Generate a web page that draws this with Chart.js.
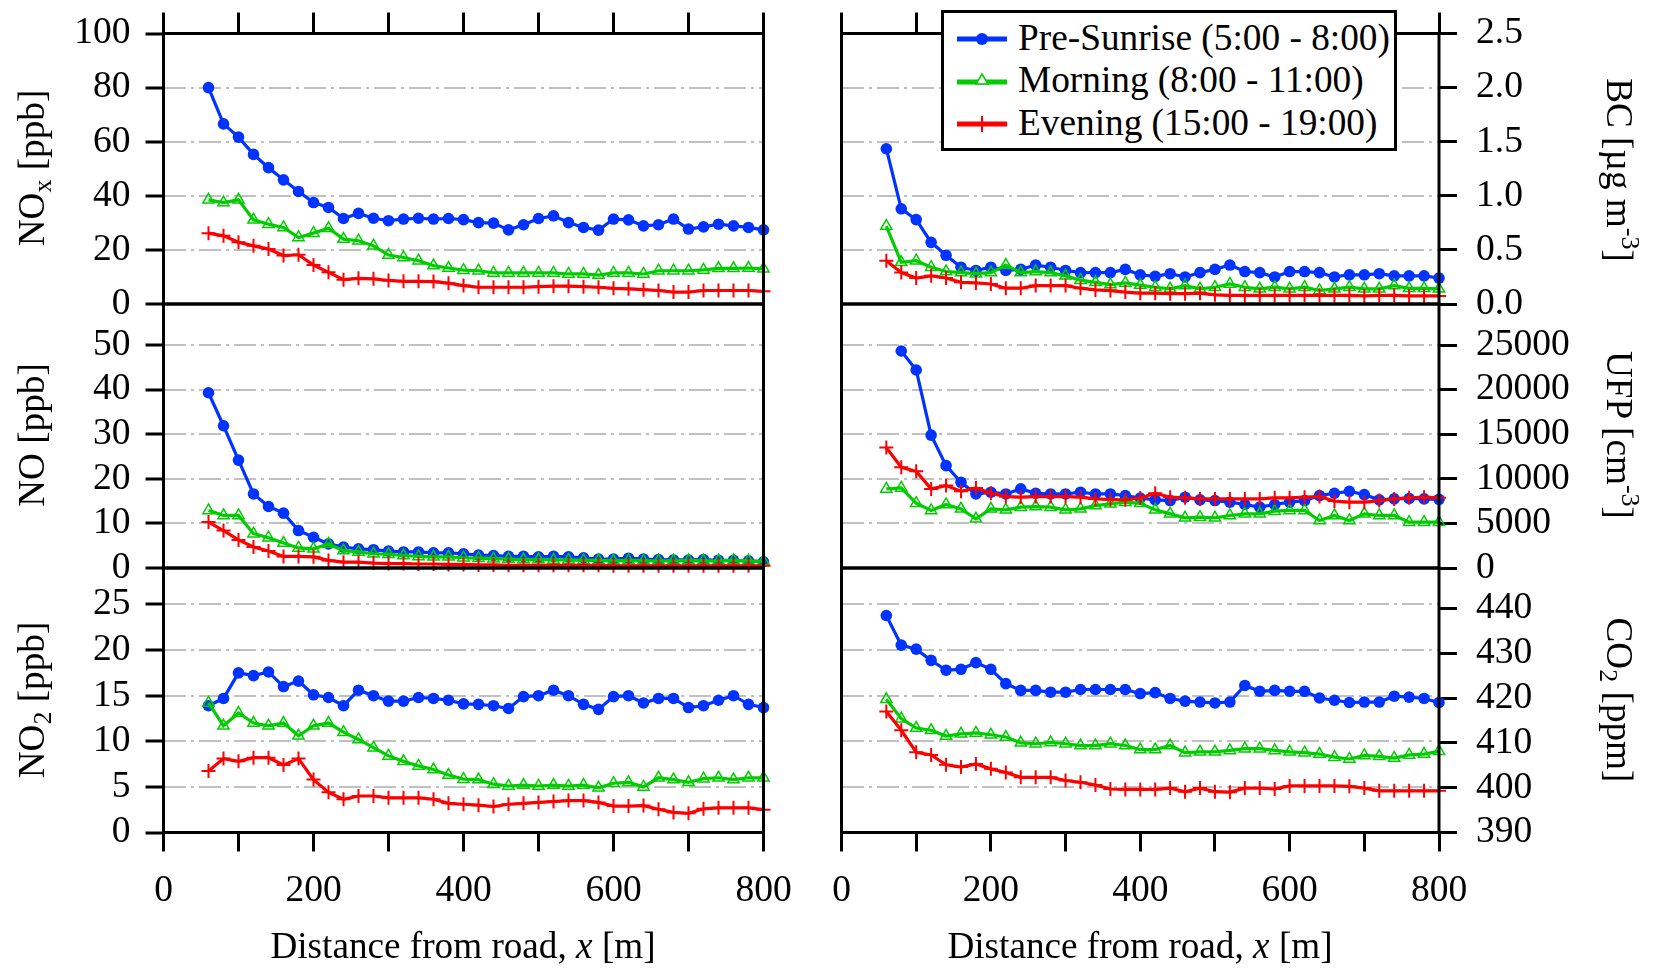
<!DOCTYPE html>
<html><head><meta charset="utf-8">
<script src="https://cdn.jsdelivr.net/npm/chart.js@4.4.0/dist/chart.umd.min.js"></script>
<style>
html,body{margin:0;padding:0;background:#fff;}
body{width:1662px;height:969px;position:relative;overflow:hidden;font-family:'Liberation Serif','Times New Roman',serif;color:#000;}
canvas{position:absolute;left:0;top:0;}
.t{position:absolute;font-size:37.2px;white-space:nowrap;text-align:center;line-height:44px;height:44px;width:320px;}
.t sub{font-size:26px;vertical-align:-7px;line-height:0;}
.t sup{font-size:26px;vertical-align:15px;line-height:0;}
.lt{position:absolute;font-size:37.3px;white-space:nowrap;line-height:44px;height:44px;}
</style></head><body>
<canvas id="c0" width="1662" height="969"></canvas>
<canvas id="c1" width="1662" height="969"></canvas>
<canvas id="c2" width="1662" height="969"></canvas>
<canvas id="c3" width="1662" height="969"></canvas>
<canvas id="c4" width="1662" height="969"></canvas>
<canvas id="c5" width="1662" height="969"></canvas>

<div class="t" style="left:-128px;top:146px;transform:rotate(-90deg)">NO<sub>x</sub> [ppb]</div>
<div class="t" style="left:-128px;top:413px;transform:rotate(-90deg)">NO [ppb]</div>
<div class="t" style="left:-128px;top:678px;transform:rotate(-90deg)">NO<sub>2</sub> [ppb]</div>
<div class="t" style="left:1459px;top:148px;transform:rotate(90deg)">BC [µg m<sup>-3</sup>]</div>
<div class="t" style="left:1459px;top:413px;transform:rotate(90deg)">UFP [cm<sup>-3</sup>]</div>
<div class="t" style="left:1459px;top:678px;transform:rotate(90deg)">CO<sub>2</sub> [ppm]</div>
<div class="t" style="left:213px;top:924px;width:500px">Distance from road, <i>x</i> [m]</div>
<div class="t" style="left:890px;top:924px;width:500px">Distance from road, <i>x</i> [m]</div>

<div style="position:absolute;left:941px;top:10px;width:456px;height:141px;border:3px solid #000;box-sizing:border-box;background:#fff;"></div>
<svg style="position:absolute;left:955px;top:27px" width="54" height="24"><line x1="2" y1="12" x2="52" y2="12" stroke="#0033ff" stroke-width="5"/><circle cx="27" cy="12" r="6" fill="#0033ff"/></svg>
<svg style="position:absolute;left:955px;top:70px" width="54" height="24"><line x1="2" y1="12" x2="52" y2="12" stroke="#00cc00" stroke-width="5"/><polygon points="27,4 33,14 21,14" fill="#fff" stroke="#00cc00" stroke-width="1.5"/></svg>
<svg style="position:absolute;left:955px;top:112px" width="54" height="24"><line x1="2" y1="12" x2="52" y2="12" stroke="#ff0000" stroke-width="5"/><path d="M27 4 V20 M20 12 H34" stroke="#ff0000" stroke-width="2"/></svg>
<div class="lt" style="left:1018px;top:16px">Pre-Sunrise (5:00 - 8:00)</div>
<div class="lt" style="left:1018px;top:58px">Morning (8:00 - 11:00)</div>
<div class="lt" style="left:1018px;top:101px">Evening (15:00 - 19:00)</div>

<script>
// ---------- data ----------
const distance = [60,80,100,120,140,160,180,200,220,240,260,280,300,320,340,360,380,400,420,440,460,480,500,520,540,560,580,600,620,640,660,680,700,720,740,760,780,800];

const noxPre  = [80,66.6,61.7,55.3,50.4,45.9,41.6,37.5,35.7,31.6,33.5,31.7,30.8,31.4,31.7,31.4,31.6,31.2,30.1,29.9,27.4,29.3,31.6,32.6,30.1,28.3,27.3,31.4,31.1,28.9,29.3,31.4,27.7,28.5,29.5,28.9,28.3,27.4];
const noxMorn = [38.5,37.5,38.5,31.1,29.5,28.3,24.6,26.2,28.0,24.0,23.4,21.5,18.1,17.2,16.0,14.2,13.3,12.5,12.3,11.5,11.5,11.5,11.5,11.5,11.1,11.1,10.7,11.5,11.5,11.1,12.3,12.3,12.3,12.6,13.2,13.2,13.3,13.0];
const noxEve  = [26.2,25.2,22.8,21.5,20.3,17.9,18.2,14.4,11.7,9.0,9.5,9.3,8.7,8.4,8.4,8.3,7.7,6.8,6.2,6.2,6.2,6.2,6.4,6.6,6.6,6.4,6.2,5.8,5.6,5.3,5.0,4.4,4.4,5.0,5.0,5.0,5.0,4.7];

const bcPre  = [1.435,0.88,0.78,0.57,0.45,0.34,0.31,0.34,0.31,0.32,0.36,0.34,0.31,0.29,0.29,0.29,0.32,0.27,0.256,0.28,0.25,0.29,0.32,0.36,0.30,0.29,0.25,0.30,0.30,0.29,0.25,0.27,0.27,0.28,0.26,0.26,0.26,0.24];
const bcMorn = [0.72,0.385,0.40,0.34,0.30,0.29,0.28,0.29,0.36,0.29,0.30,0.29,0.26,0.22,0.20,0.18,0.195,0.175,0.155,0.14,0.17,0.14,0.155,0.185,0.155,0.14,0.155,0.14,0.155,0.125,0.14,0.155,0.14,0.14,0.17,0.145,0.145,0.14];
const bcEve  = [0.40,0.29,0.24,0.26,0.24,0.20,0.195,0.185,0.146,0.146,0.17,0.17,0.17,0.146,0.13,0.124,0.11,0.10,0.10,0.095,0.095,0.10,0.085,0.08,0.08,0.08,0.08,0.08,0.08,0.08,0.08,0.08,0.075,0.08,0.08,0.075,0.075,0.075];

const noPre  = [39.3,31.9,24.2,16.6,13.8,12.3,8.4,6.9,5.4,4.7,4.3,4.1,3.8,3.6,3.6,3.4,3.4,3.2,2.9,2.8,2.6,2.6,2.5,2.6,2.5,2.3,2.0,2.0,2.2,2.0,1.9,1.8,1.8,1.9,1.7,1.7,1.6,1.4];
const noMorn = [12.9,11.8,11.8,7.7,6.8,5.6,4.5,4.3,5.4,3.9,3.6,3.2,3.1,2.8,2.6,2.5,2.5,2.3,2.2,2.1,2.0,1.9,1.9,1.8,1.8,1.7,1.7,1.6,1.7,1.6,1.6,1.6,1.7,1.6,1.6,1.7,1.6,1.5];
const noEve  = [10.3,8.4,6.3,4.7,3.8,2.6,2.6,2.5,1.7,1.3,1.3,1.1,1.0,1.0,0.9,0.9,0.8,0.8,0.7,0.7,0.6,0.6,0.6,0.6,0.6,0.6,0.6,0.5,0.5,0.5,0.5,0.5,0.5,0.5,0.5,0.5,0.5,0.5];

const ufpPre  = [null,24330,22200,14900,11480,9610,8300,8500,8300,8870,8380,8300,8300,8500,8300,8300,8120,7850,7640,7560,7940,7640,7560,7380,7120,6820,7120,7380,7560,8120,8380,8600,8230,7640,7750,7800,7750,7700];
const ufpMorn = [8870,8980,7260,6450,7120,6630,5510,6630,6520,6820,6890,6820,6520,6630,7000,7190,7380,7250,6520,6070,5630,5700,5630,5890,6070,6070,6370,6450,6450,5330,5890,5330,6070,5890,5890,5140,5140,5140];
const ufpEve  = [13500,11290,10840,8870,9240,8610,8980,8380,8010,7940,8010,8010,8010,7940,7750,7680,7640,7850,8380,7940,7870,7750,7750,7750,7750,7750,7870,7870,7940,8010,7500,7380,7380,7560,7750,7870,7940,7870];

const no2Pre  = [13.9,14.7,17.5,17.2,17.6,16.0,16.6,15.1,14.8,13.9,15.6,15.0,14.4,14.4,14.8,14.7,14.5,14.1,14.05,13.9,13.6,14.9,15.0,15.6,15.0,14.05,13.5,14.9,15.0,14.2,14.7,14.7,13.7,13.9,14.5,15.0,14.05,13.7];
const no2Morn = [14.2,11.7,13.1,12.0,11.7,12.0,10.6,11.7,12.0,11.0,10.2,9.3,8.4,7.8,7.3,6.9,6.3,5.85,5.8,5.3,5.1,5.2,5.1,5.2,5.1,5.2,4.9,5.4,5.5,5.0,6.0,5.8,5.5,5.9,6.0,5.8,6.0,6.0];
const no2Eve  = [6.75,8.1,7.8,8.2,8.2,7.4,8.1,5.8,4.4,3.65,4.0,4.0,3.8,3.8,3.8,3.65,3.2,3.1,3.0,2.85,3.1,3.2,3.3,3.4,3.5,3.5,3.3,2.9,2.9,2.95,2.55,2.2,2.1,2.6,2.7,2.7,2.7,2.5];

const co2Pre  = [438.4,431.8,430.9,428.4,426.2,426.4,427.9,426.4,423.2,421.7,421.7,421.3,421.3,421.9,421.9,421.9,421.9,421.0,421.2,419.9,419.3,419.1,418.9,419.1,422.8,421.5,421.7,421.5,421.5,420.0,419.5,419.0,419.1,419.1,420.4,420.2,419.9,419.0];
const co2Morn = [419.7,415.4,413.3,412.8,411.5,412.0,412.2,411.8,411.3,410.0,409.8,410.1,409.8,409.4,409.4,409.8,409.4,408.5,408.5,409.4,407.8,408.0,408.0,408.3,408.7,408.7,408.3,408.0,407.8,407.5,406.8,406.4,407.2,407.0,406.6,407.3,407.5,408.1];
const co2Eve  = [417.0,412.8,407.9,407.3,405.1,404.6,405.3,404.2,403.4,402.3,402.3,402.3,401.6,401.2,400.6,399.7,399.6,399.6,399.6,399.9,399.1,399.9,399.1,399.0,399.9,399.9,399.7,400.4,400.4,400.4,400.4,400.3,399.9,399.3,399.3,399.3,399.3,399.3];

// ---------- tick values ----------
const xTicks = [0,100,200,300,400,500,600,700,800];
const xTickLabels = [0,200,400,600,800];
const noxTicks = [0,20,40,60,80,100];
const noTicks  = [0,10,20,30,40,50];
const no2Ticks = [0,5,10,15,20,25];
const bcTicks  = [0,0.5,1,1.5,2,2.5];
const ufpTicks = [0,5000,10000,15000,20000,25000];
const co2Ticks = [390,400,410,420,430,440];

const seriesNames = ['Pre-Sunrise (5:00 - 8:00)','Morning (8:00 - 11:00)','Evening (15:00 - 19:00)'];

// ---------- layout / style ----------
const FONT = "'Liberation Serif','Times New Roman',serif";
Chart.defaults.font.family = FONT;
Chart.defaults.font.size = 37.5;
Chart.defaults.color = '#000';

const COLS = [{x0:163.5, x1:763.5},{x0:841.5, x1:1439}];
const ROWS = [{y0:33.5, y1:304},{y0:304, y1:568},{y0:568, y1:832.5}];
const YW = 160, XH = 100, XTH = 30;
const GRID_DASH = [22,5,3,5];
const BLUE = '#0033ff', GREEN = '#00cc00', RED = '#ff0000';

const framePlugin = {
  id:'frame',
  afterDraw(chart){
    const {ctx, chartArea:a} = chart;
    ctx.save(); ctx.lineWidth = 3; ctx.strokeStyle = '#000';
    ctx.strokeRect(a.left, a.top, a.right - a.left, a.bottom - a.top);
    ctx.restore();
  }
};

function setTicks(vals){ return s => { s.ticks = vals.map(v => ({value:v})); }; }
function fixY(w){ return s => { s.width = w; s.paddingTop = 0; s.paddingBottom = 0; }; }
function fixX(h){ return s => { s.height = h; s.paddingLeft = 0; s.paddingRight = 0; }; }

function toPts(arr){ return distance.map((d,i)=>({x:d, y:arr[i]})).filter(p => p.y !== null); }

function makeDatasets(pre, morn, eve){
  const common = {xAxisID:'x', yAxisID:'y', clip:false, borderWidth:3.2};
  return [
    Object.assign({label:seriesNames[0], data:toPts(pre), borderColor:BLUE, backgroundColor:BLUE,
     pointStyle:'circle', pointRadius:5.8, pointBackgroundColor:BLUE, pointBorderColor:BLUE, pointBorderWidth:0, order:2}, common),
    Object.assign({label:seriesNames[1], data:toPts(morn), borderColor:GREEN, backgroundColor:'rgba(0,0,0,0)',
     pointStyle:'triangle', pointRadius:6.5, pointBackgroundColor:'rgba(0,0,0,0)', pointBorderColor:GREEN, pointBorderWidth:1.5, order:1}, common),
    Object.assign({label:seriesNames[2], data:toPts(eve), borderColor:RED, backgroundColor:RED,
     pointStyle:'cross', pointRadius:7, pointBorderColor:RED, pointBorderWidth:2, order:0}, common)
  ];
}

function xBottom(show){
  return {type:'linear', position:'bottom', min:0, max:800,
    afterBuildTicks:setTicks(xTicks), afterFit:fixX(XH),
    ticks:{display:show, autoSkip:false, maxRotation:0, padding:17,
      callback:v => xTickLabels.includes(v) ? String(v) : ''},
    grid:{drawOnChartArea:false, drawTicks:show, tickLength:19, tickColor:'#000', tickWidth:3},
    border:{display:false}};
}
function xTopAxis(){
  return {type:'linear', position:'top', min:0, max:800,
    afterBuildTicks:setTicks(xTicks), afterFit:fixX(XTH),
    ticks:{display:false},
    grid:{drawOnChartArea:false, drawTicks:true, tickLength:21, tickColor:'#000', tickWidth:3},
    border:{display:false}};
}

function makePanel(id, col, row, data, leftAx, rightAx){
  const c = COLS[col], r = ROWS[row];
  const scales = { x: xBottom(row === 2) };
  if (row === 0) scales.xt = xTopAxis();
  const gridAxis = () => ({type:'linear', min:leftAx.min, max:leftAx.max,
    afterBuildTicks:setTicks(leftAx.ticks),
    grid:{color:'#c0c0c0', lineWidth:2, drawOnChartArea:true, tickColor:'#000', tickWidth:3, tickLength:18},
    border:{display:false, dash:GRID_DASH}});
  let pad;
  if (col === 0) {
    scales.y = Object.assign(gridAxis(), {position:'left', afterFit:fixY(YW),
      ticks:{padding:15, callback:leftAx.fmt}});
    scales.y.grid.drawTicks = true;
    pad = {left:c.x0 - YW, right:1662 - c.x1};
  } else {
    scales.y = {type:'linear', position:'right', min:rightAx.min, max:rightAx.max,
      afterBuildTicks:setTicks(rightAx.ticks), afterFit:fixY(YW),
      ticks:{padding:19, callback:rightAx.fmt},
      grid:{drawOnChartArea:false, drawTicks:true, tickLength:18, tickColor:'#000', tickWidth:3},
      border:{display:false}};
    scales.g = Object.assign(gridAxis(), {position:'left', afterFit:fixY(0), ticks:{display:false}});
    scales.g.grid.drawTicks = false;
    pad = {left:c.x0, right:1662 - c.x1 - YW};
  }
  pad.top = row === 0 ? r.y0 - XTH : r.y0;
  pad.bottom = 969 - r.y1 - XH;
  new Chart(document.getElementById(id), {
    type:'line',
    data:{datasets:data},
    options:{responsive:false, animation:false, devicePixelRatio:1,
      layout:{padding:pad, autoPadding:false},
      elements:{line:{tension:0}},
      plugins:{legend:{display:false}, tooltip:{enabled:false}},
      scales},
    plugins:[framePlugin]
  });
}

const intFmt = v => String(v);
const noxAx = {min:0, max:100, ticks:noxTicks, fmt:intFmt};
const noAx  = {min:0, max:59.2, ticks:noTicks, fmt:intFmt};
const no2Ax = {min:0, max:29, ticks:no2Ticks, fmt:intFmt};
const bcAx  = {min:0, max:2.5, ticks:bcTicks, fmt:v => v.toFixed(1)};
const ufpAx = {min:0, max:29600, ticks:ufpTicks, fmt:intFmt};
const co2Ax = {min:390, max:449, ticks:co2Ticks, fmt:intFmt};

makePanel('c0', 0, 0, makeDatasets(noxPre, noxMorn, noxEve), noxAx, null);
makePanel('c1', 0, 1, makeDatasets(noPre, noMorn, noEve), noAx, null);
makePanel('c2', 0, 2, makeDatasets(no2Pre, no2Morn, no2Eve), no2Ax, null);
makePanel('c3', 1, 0, makeDatasets(bcPre, bcMorn, bcEve), noxAx, bcAx);
makePanel('c4', 1, 1, makeDatasets(ufpPre, ufpMorn, ufpEve), noAx, ufpAx);
makePanel('c5', 1, 2, makeDatasets(co2Pre, co2Morn, co2Eve), no2Ax, co2Ax);
</script>
</body></html>
